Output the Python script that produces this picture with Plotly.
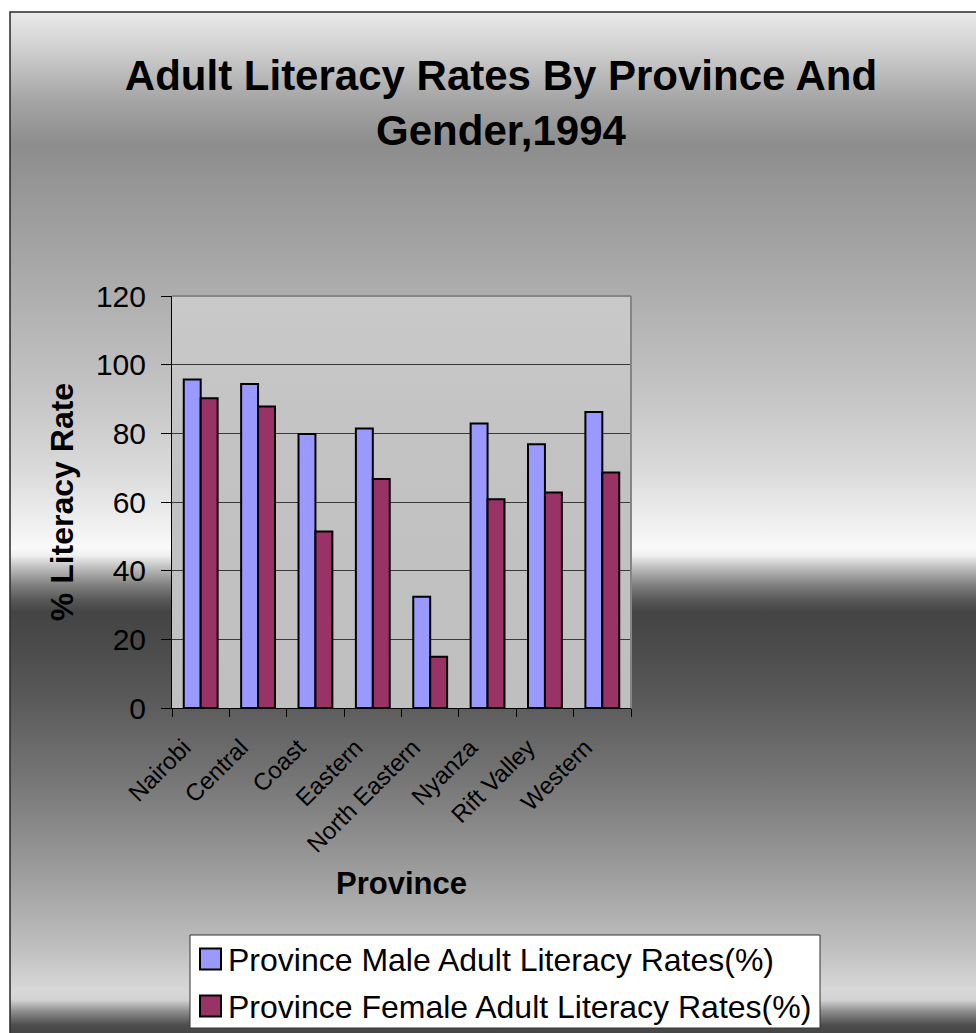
import base64
import plotly.graph_objects as go

# ---- data -------------------------------------------------------------
provinces = ["Nairobi", "Central", "Coast", "Eastern", "North Eastern",
             "Nyanza", "Rift Valley", "Western"]
male_rates = [95.7, 94.4, 79.8, 81.4, 32.4, 82.9, 76.8, 86.2]
female_rates = [90.2, 87.8, 51.4, 66.7, 14.9, 60.8, 62.8, 68.6]
series_names = ["Province Male Adult Literacy Rates(%)",
                "Province Female Adult Literacy Rates(%)"]
series_colors = ["#9999FF", "#993366"]
y_ticks = [0, 20, 40, 60, 80, 100, 120]

# ---- geometry (pixels) ------------------------------------------------
W, H = 976, 1033
L, R, T, B = 172, 345, 296, 325
PW, PH = W - L - R, H - T - B
FONT = "Arial, Liberation Sans, sans-serif"


def px_x(x):
    return (x - L) / PW


def px_y(y):
    return (H - B - y) / PH


def gradient_uri(stops):
    stop_tags = "".join(
        f'<stop offset="{o:.4f}" stop-color="{c}"/>' for o, c in stops)
    svg = ('<svg xmlns="http://www.w3.org/2000/svg" width="10" height="1000" '
           'viewBox="0 0 10 1000" preserveAspectRatio="none">'
           '<defs><linearGradient id="g" x1="0" y1="0" x2="0" y2="1">'
           f'{stop_tags}</linearGradient></defs>'
           '<rect width="10" height="1000" fill="url(#g)"/></svg>')
    return "data:image/svg+xml;base64," + base64.b64encode(svg.encode()).decode()


# chart-area "horizon" gradient, stops given at pixel rows
frame_top, frame_bottom = 12, 1033
bg_rows = [
    (12, "#eaeaea"), (50, "#cfcfcf"), (100, "#a5a5a5"), (145, "#8d8d8d"),
    (200, "#999999"), (300, "#afafaf"), (400, "#c6c6c6"), (470, "#dadada"),
    (530, "#f2f2f2"), (548, "#fafafa"), (556, "#eeeeee"), (568, "#bdbdbd"),
    (585, "#808080"), (600, "#585858"), (612, "#444444"), (650, "#4c4c4c"),
    (700, "#5a5a5a"), (780, "#767676"), (850, "#939393"), (900, "#a9a9a9"),
    (950, "#c0c0c0"), (990, "#d8d8d8"), (1000, "#d2d2d2"), (1012, "#8a8a8a"),
    (1025, "#4e4e4e"), (1033, "#454545"),
]
bg_stops = [((y - frame_top) / (frame_bottom - frame_top), c) for y, c in bg_rows]
plot_stops = [(0.0, "#c9c9c9"), (0.35, "#c3c3c3"), (1.0, "#bfbfbf")]

fig = go.Figure()
for name, vals, col in zip(series_names, [male_rates, female_rates], series_colors):
    fig.add_trace(go.Bar(
        x=provinces, y=vals, name=name,
        marker=dict(color=col, line=dict(color="black", width=2)),
        showlegend=False,
    ))

images = [
    dict(source=gradient_uri(bg_stops), xref="paper", yref="paper",
         x=px_x(10), y=px_y(frame_top), sizex=(W - 10) / PW,
         sizey=(frame_bottom - frame_top) / PH,
         xanchor="left", yanchor="top", sizing="stretch", layer="below"),
    dict(source=gradient_uri(plot_stops), xref="paper", yref="paper",
         x=0, y=1, sizex=1, sizey=1, xanchor="left", yanchor="top",
         sizing="stretch", layer="below"),
]

shapes = [
    # outer frame of the chart area
    dict(type="rect", xref="paper", yref="paper", layer="below",
         x0=px_x(10), y0=px_y(12), x1=px_x(1000), y1=px_y(1060),
         line=dict(color="#2a2a2a", width=1.5), fillcolor="rgba(0,0,0,0)"),
    # grey plot-area border on top and right
    dict(type="line", xref="paper", yref="paper", layer="above",
         x0=0, y0=1, x1=1, y1=1, line=dict(color="#858585", width=2)),
    dict(type="line", xref="paper", yref="paper", layer="above",
         x0=1, y0=0, x1=1, y1=1, line=dict(color="#858585", width=2)),
    # legend box
    dict(type="rect", xref="paper", yref="paper", layer="above",
         x0=px_x(190), y0=px_y(935), x1=px_x(820), y1=px_y(1028),
         line=dict(color="#333333", width=1), fillcolor="white"),
]

annotations = []
legend_rows = [959, 1006]
for name, col, yc in zip(series_names, series_colors, legend_rows):
    shapes.append(dict(type="rect", xref="paper", yref="paper", layer="above",
                       x0=px_x(200), x1=px_x(221), y0=px_y(yc - 10.5),
                       y1=px_y(yc + 10.5), fillcolor=col,
                       line=dict(color="black", width=2)))
    annotations.append(dict(text=name, xref="paper", yref="paper",
                            x=px_x(226), y=px_y(yc + 1), xanchor="left",
                            yanchor="middle", showarrow=False,
                            font=dict(family=FONT, size=32, color="black")))

fig.update_layout(
    width=W, height=H,
    margin=dict(l=L, r=R, t=T, b=B, pad=0),
    paper_bgcolor="white",
    plot_bgcolor="rgba(0,0,0,0)",
    bargap=0.41, bargroupgap=0,
    title=dict(text="<b>Adult Literacy Rates By Province And<br>Gender,1994</b>",
               x=501 / W, xref="container", xanchor="center",
               y=1 - 90 / H, yref="container", yanchor="middle",
               font=dict(family=FONT, size=42, color="black")),
    images=images,
    shapes=shapes,
    annotations=annotations,
)

fig.update_xaxes(
    type="category", tickangle=-45, tickson="boundaries",
    ticks="outside", ticklen=8, tickcolor="black", tickwidth=1,
    ticklabelstandoff=15, ticklabelshift=-17,
    showline=True, linecolor="black", linewidth=1,
    showgrid=False, zeroline=False,
    tickfont=dict(family=FONT, size=24, color="black"),
    title=dict(text="<b>Province</b>", standoff=15,
               font=dict(family=FONT, size=31, color="black")),
)
fig.update_yaxes(
    range=[0, 120], tickvals=y_ticks,
    ticks="outside", ticklen=10, tickcolor="black", tickwidth=1,
    ticklabelstandoff=9,
    showline=True, linecolor="black", linewidth=1,
    showgrid=True, gridcolor="#3a3a3a", gridwidth=1, zeroline=False,
    tickfont=dict(family=FONT, size=30, color="black"),
    title=dict(text="<b>% Literacy Rate</b>", standoff=12,
               font=dict(family=FONT, size=32, color="black")),
)

fig.write_html("out.html")
